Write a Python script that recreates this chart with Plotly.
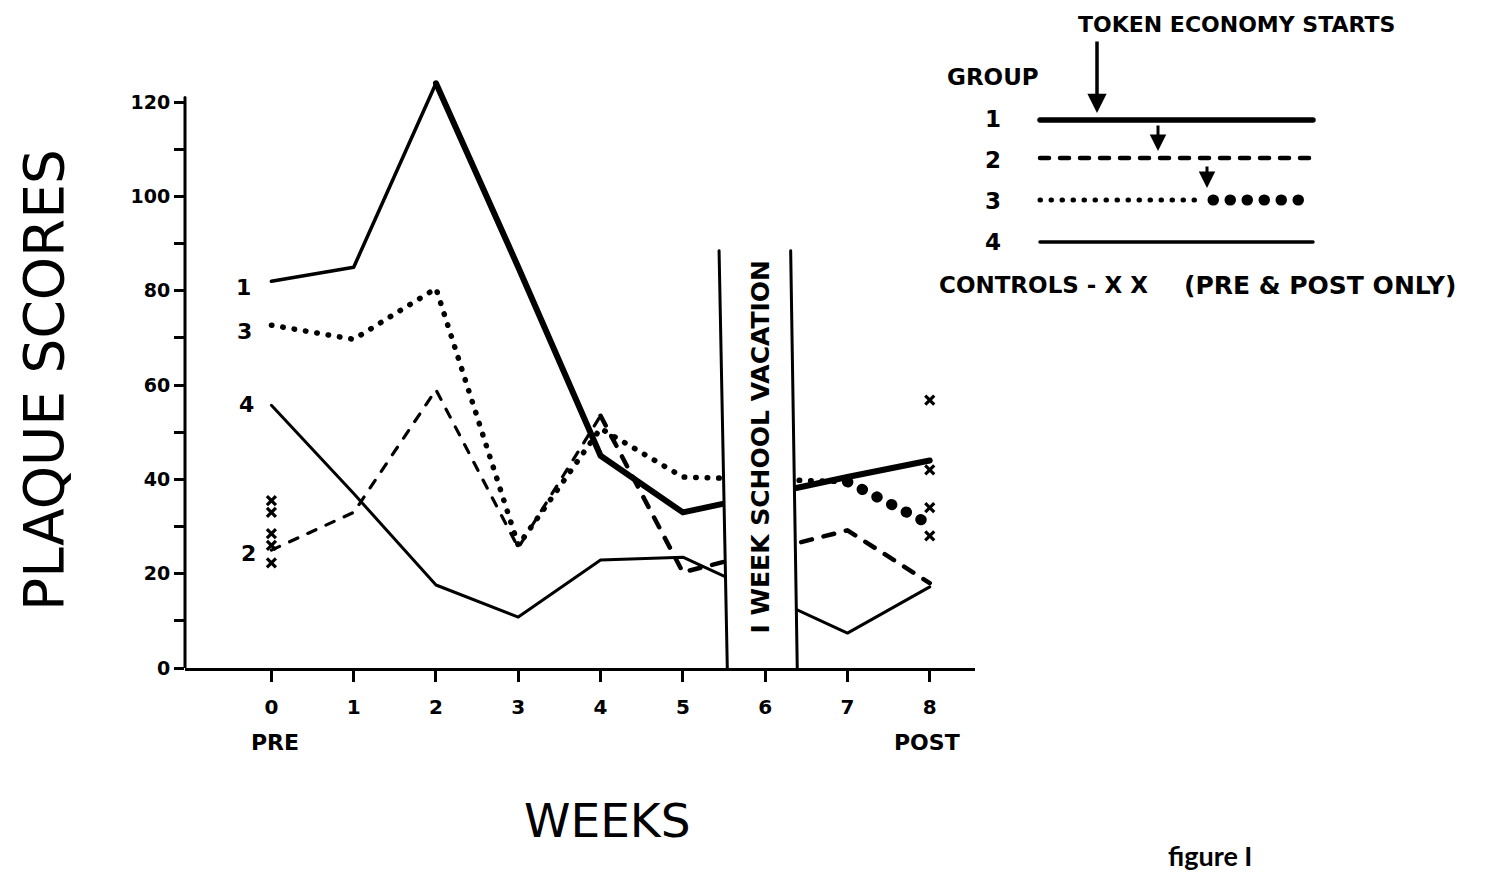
import plotly.graph_objects as go

# ---------------- data ----------------
weeks = [0, 1, 2, 3, 4, 5, 6, 7, 8]
week_labels = ["0", "1", "2", "3", "4", "5", "6", "7", "8"]
group1 = [82, 85, 124, 85, 45, 33, None, 40.5, 44]
group2 = [25, 33, 59, 25.5, 53.5, 20.3, None, 29.2, 18]
group3 = [72.7, 69.7, 80.5, 26, 50.8, 40.5, None, 39.5, 30.5]
group4 = [55.7, 37, 17.6, 10.8, 22.9, 23.5, None, 7.4, 17.2]
# week index where the token economy starts for each group
token_start = {"1": 2, "2": 4, "3": 7}
controls_pre_x = [0, 0, 0, 0, 0]
controls_pre = [35.5, 33, 28.5, 26, 22.3]
controls_post_x = [8, 8, 8, 8]
controls_post = [56.8, 42, 34, 28]
y_ticks = [0, 10, 20, 30, 40, 50, 60, 70, 80, 90, 100, 110, 120]
y_ticktext = ["0", "", "20", "", "40", "", "60", "", "80", "", "100", "", "120"]
vacation = (5.5, 6.37)

BOLD = "DejaVu Sans"
fig = go.Figure()

def seg(vals, a, b):
    return weeks[a:b + 1], vals[a:b + 1]

# group 1
x, y = seg(group1, 0, token_start["1"])
fig.add_trace(go.Scatter(x=x, y=y, mode="lines", line=dict(color="black", width=3.5)))
x, y = seg(group1, token_start["1"], 8)
fig.add_trace(go.Scatter(x=x, y=y, mode="lines", connectgaps=True, line=dict(color="black", width=6)))
# group 2
x, y = seg(group2, 0, token_start["2"])
fig.add_trace(go.Scatter(x=x, y=y, mode="lines", line=dict(color="black", width=3.2, dash="9px,11px")))
x, y = seg(group2, token_start["2"], 8)
fig.add_trace(go.Scatter(x=x, y=y, mode="lines", connectgaps=True, line=dict(color="black", width=4.5, dash="11px,12px")))
# group 3
x, y = seg(group3, 0, token_start["3"])
fig.add_trace(go.Scatter(x=x, y=y, mode="lines", connectgaps=True, line=dict(color="black", width=5.5, dash="0.5px,11px")))
x, y = seg(group3, token_start["3"], 8)
fig.add_trace(go.Scatter(x=x, y=y, mode="lines", line=dict(color="black", width=11, dash="0.5px,16px")))
# group 4
fig.add_trace(go.Scatter(x=weeks, y=group4, mode="lines", connectgaps=True, line=dict(color="black", width=3)))
# controls
fig.add_trace(go.Scatter(x=controls_pre_x + controls_post_x, y=controls_pre + controls_post, mode="markers",
                         marker=dict(symbol="x-thin", size=9, line=dict(color="black", width=3.2))))

X0, X1 = -1.05, 8.55
L, R, T, B = 185, 520, 55, 206
W, H = 1495, 874
PW, PH = W - L - R, H - T - B

def px(xp):
    return (xp - L) / PW

def py(yp):
    return (H - B - yp) / PH

shapes = []
# y axis line (only up to 121)
shapes.append(dict(type="line", xref="paper", yref="y", x0=0, x1=0, y0=0, y1=121,
                   line=dict(color="black", width=3)))
# vacation band
shapes.append(dict(type="path", xref="x", yref="y", layer="above",
                   path=f"M {vacation[0]-0.06},88.5 L {vacation[0]+0.04},0 L {vacation[1]+0.02},0 L {vacation[1]-0.06},88.5 Z",
                   fillcolor="white", line=dict(width=0)))
shapes.append(dict(type="line", xref="x", yref="y", layer="above", x0=vacation[0]-0.06, x1=vacation[0]+0.04,
                   y0=88.5, y1=0, line=dict(color="black", width=3)))
shapes.append(dict(type="line", xref="x", yref="y", layer="above", x0=vacation[1]-0.06, x1=vacation[1]+0.02,
                   y0=88.5, y1=0, line=dict(color="black", width=3)))
# legend lines
LX0, LX1 = 1040, 1313
shapes.append(dict(type="line", xref="paper", yref="paper", x0=px(LX0), x1=px(LX1), y0=py(120), y1=py(120),
                   line=dict(color="black", width=5.5)))
shapes.append(dict(type="line", xref="paper", yref="paper", x0=px(LX0), x1=px(LX1), y0=py(158), y1=py(158),
                   line=dict(color="black", width=4.5, dash="9px,11px")))
shapes.append(dict(type="line", xref="paper", yref="paper", x0=px(LX0), x1=px(1200), y0=py(200), y1=py(200),
                   line=dict(color="black", width=5, dash="0.5px,10.5px")))
shapes.append(dict(type="line", xref="paper", yref="paper", x0=px(1213), x1=px(LX1), y0=py(200), y1=py(200),
                   line=dict(color="black", width=11, dash="0.5px,16.5px")))
shapes.append(dict(type="line", xref="paper", yref="paper", x0=px(LX0), x1=px(LX1), y0=py(242), y1=py(242),
                   line=dict(color="black", width=3.5)))

ann = []
def text(xp, yp, s, size=22, font=BOLD, bold=True, **kw):
    ann.append(dict(xref="paper", yref="paper", x=px(xp), y=py(yp), text=(f"<b>{s}</b>" if bold else s),
                    showarrow=False, font=dict(family=font, size=size, color="black"),
                    xanchor="center", yanchor="middle", **kw))

def arrow(xp, y_tip, y_tail, width=3, size=1.2):
    ann.append(dict(xref="paper", yref="paper", x=px(xp), y=py(y_tip), ax=0, ay=y_tail - y_tip,
                    text="", showarrow=True, arrowhead=2, arrowsize=size, arrowwidth=width, arrowcolor="black"))

text(1236, 24, "TOKEN ECONOMY STARTS", size=22)
arrow(1097, 113, 40, width=3.5, size=1.1)
text(993, 77, "GROUP", size=23)
for lab, yy in [("1", 119), ("2", 160), ("3", 201), ("4", 242)]:
    text(993, yy, lab, size=23)
arrow(1158, 151, 124, width=3, size=1.1)
arrow(1207, 188, 165, width=3, size=1.1)
text(1043, 285, "CONTROLS - X X", size=23)
text(1320, 285, "(PRE &amp; POST ONLY)", size=25)

# axis titles and captions
text(607, 820, "WEEKS", size=47, bold=False)
text(44, 380, "PLAQUE SCORES", size=55, bold=False, textangle=-90)
text(1210, 855, "<b>figure I</b>", size=27, font="Lato", bold=False)
text(275, 742, "PRE", size=22)
text(927, 742, "POST", size=22)

# series labels
for lab, xv, yv in [("1", -0.34, 80.8), ("3", -0.33, 71.4), ("4", -0.30, 55.8), ("2", -0.28, 24.2)]:
    ann.append(dict(xref="x", yref="y", x=xv, y=yv, text=f"<b>{lab}</b>", showarrow=False,
                    font=dict(family=BOLD, size=22, color="black")))

# vacation label
ann.append(dict(xref="x", yref="y", x=5.94, y=47, text="<b>I WEEK SCHOOL VACATION</b>", showarrow=False,
                textangle=-90, font=dict(family=BOLD, size=25, color="black")))

fig.update_layout(
    width=W, height=H, showlegend=False,
    paper_bgcolor="white", plot_bgcolor="white",
    margin=dict(l=L, r=R, t=T, b=B, pad=0),
    shapes=shapes, annotations=ann,
    xaxis=dict(range=[X0, X1], tickvals=weeks, ticktext=week_labels, showgrid=False, zeroline=False,
               showline=True, linecolor="black", linewidth=3, ticks="outside", ticklen=11, tickwidth=2.5,
               tickcolor="black", ticklabelstandoff=8,
               tickfont=dict(family=BOLD, size=20, color="black", weight="bold")),
    yaxis=dict(range=[0, 130], tickvals=y_ticks, ticktext=y_ticktext, showgrid=False, zeroline=False,
               showline=False, ticks="outside", ticklen=10, tickwidth=2.5, tickcolor="black",
               tickfont=dict(family=BOLD, size=19, color="black", weight="bold")),
)

post = """
document.body.style.margin = '0';
var gd = document.getElementById('{plot_id}');
function fixCaps(){
  document.querySelectorAll('path.js-line, .shapelayer path').forEach(function(p){
    p.style.strokeLinecap = 'round'; p.style.strokeLinejoin = 'round';
  });
}
fixCaps();
if (gd && gd.on) { gd.on('plotly_afterplot', fixCaps); }
"""
fig.write_html("out.html", post_script=post, config={"displayModeBar": False})
